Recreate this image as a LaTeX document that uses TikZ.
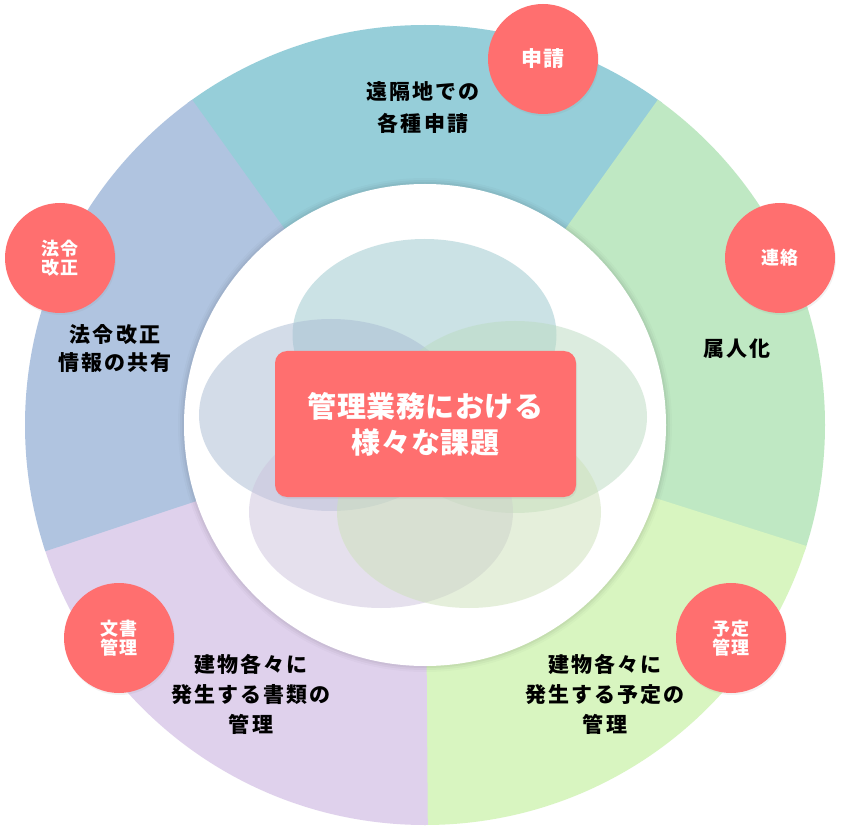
\documentclass[tikz,border=0pt]{standalone}
\usepackage{fontspec}
\usetikzlibrary{shadows}
\newfontfamily\jplab{Noto Sans CJK JP}[LetterSpace=10]
\newfontfamily\jpbadge{Noto Sans CJK JP}[LetterSpace=8]
\newfontfamily\jpmain{Noto Sans CJK JP}[LetterSpace=2]
\newcommand\issuefont[1]{\jplab\bfseries\fontsize{21pt}{#1pt}\selectfont}
\definecolor{segteal}{HTML}{96CED9}
\definecolor{seggreen}{HTML}{BFE8C3}
\definecolor{seglime}{HTML}{D8F5C0}
\definecolor{segpurple}{HTML}{DFD1EC}
\definecolor{segblue}{HTML}{B0C4E0}
\definecolor{elteal}{HTML}{99C7CD}
\definecolor{elblue}{HTML}{A9BBD3}
\definecolor{elgreen}{HTML}{BBDBC1}
\definecolor{elpurple}{HTML}{CDC3DD}
\definecolor{ellime}{HTML}{CDE1B9}
\definecolor{badgered}{HTML}{FF6F6F}
\begin{document}
\begin{tikzpicture}[x=1pt,y=-1pt,
  badge/.style={circle, fill=badgered, minimum size=110pt, inner sep=0pt,
    text=white, align=center,
    drop shadow={opacity=0.10, shadow xshift=1pt, shadow yshift=-2pt},
    font=\jpbadge\bfseries\fontsize{18pt}{19.5pt}\selectfont},
  mainbox/.style={rectangle, rounded corners=12pt, fill=badgered,
    minimum width=301pt, minimum height=146pt, inner sep=0pt,
    text=white, align=center,
    drop shadow={opacity=0.10, shadow xshift=1pt, shadow yshift=-2pt},
    font=\jpmain\bfseries\fontsize{29pt}{36pt}\selectfont},
  issue/.style={align=center, inner sep=0pt, text=black},
  blob/.style={fill opacity=0.5}]
\useasboundingbox (0,0) rectangle (844,834);
\fill[white] (0,0) rectangle (844,834);

% ring segments
\begin{scope}[shift={(425,425)}]
  \foreach \a/\b/\c in {-126/-54/segteal, -54/18/seggreen, 18/90/seglime,
                        90/162/segpurple, 162/234/segblue}{
    \begin{scope}
      \clip (0,0) -- (\a-0.4:700) -- (\b+0.4:700) -- cycle;
      \fill[\c] (0,0) circle[radius=400];
    \end{scope}
  }
\end{scope}

% inner white disc with soft shadow
\fill[black, opacity=0.02] (425,425) circle[radius=247];
\fill[black, opacity=0.03] (425,425) circle[radius=245];
\fill[black, opacity=0.04] (425,425) circle[radius=243];
\fill[white] (425,425) circle[radius=241];

% translucent ellipses
\fill[blob, fill=elteal]   (424.5,335) ellipse[x radius=132, y radius=96];
\fill[blob, fill=elblue]   (331,415)   ellipse[x radius=132, y radius=96];
\fill[blob, fill=elgreen]  (515,417)   ellipse[x radius=132, y radius=96];
\fill[blob, fill=elpurple] (381,512)   ellipse[x radius=132, y radius=96];
\fill[blob, fill=ellime]   (469,512)   ellipse[x radius=132, y radius=96];

% central box
\node[mainbox] (main) at (425.5,424) {管理業務における\\様々な課題};

% issue texts
\node[issue, font=\issuefont{32}] (t1) at (423,107.5) {遠隔地での\\各種申請};
\node[issue, font=\issuefont{28}] (t2) at (115,348.5) {法令改正\\情報の共有};
\node[issue, font=\issuefont{30}] (t3) at (737,349) {属人化};
\node[issue, font=\issuefont{30}] (t4) at (251,694) {建物各々に\\発生する書類の\\管理};
\node[issue, font=\issuefont{30}] (t5) at (605,694) {建物各々に\\発生する予定の\\管理};

% badges
\node[badge, font=\jpbadge\bfseries\fontsize{21pt}{22pt}\selectfont] (b1) at (543,59) {申請};
\node[badge] (b2) at (780,258) {連絡};
\node[badge] (b3) at (60,258) {法令\\改正};
\node[badge] (b4) at (119,638) {文書\\管理};
\node[badge] (b5) at (731,638) {予定\\管理};
\end{tikzpicture}
\end{document}
